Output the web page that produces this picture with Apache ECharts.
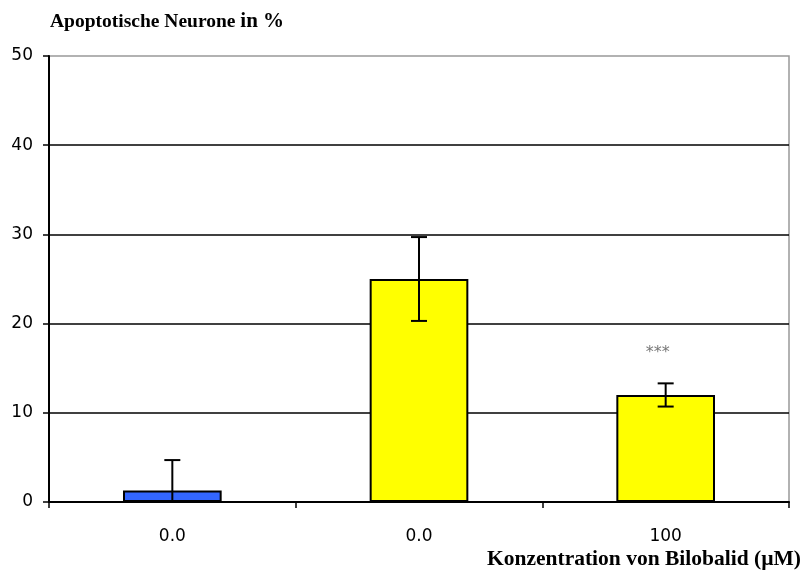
<!DOCTYPE html>
<html>
<head>
<meta charset="utf-8">
<style>
  html, body { margin: 0; padding: 0; background: #fff; }
  #chart { width: 806px; height: 572px; }
</style>
<script src="https://cdn.jsdelivr.net/npm/echarts@6/dist/echarts.min.js"></script>
</head>
<body>
<div id="chart"></div>
<script>
// Bilobalid concentration groups
const categories = ['0.0', '0.0', '100'];
// Mean share of apoptotic neurons (%)
const meanValues = [1.3, 25.0, 12.0];
// Standard deviation of each group
const errorValues = [3.4, 4.7, 1.3];
// Significance marker per group
const significance = ['', '', '***'];
const barColors = ['#3366FF', '#FFFF00', '#FFFF00'];
const yTicks = [0, 10, 20, 30, 40, 50];

const chart = echarts.init(document.getElementById('chart'), null, { renderer: 'canvas' });

const errorData = meanValues.map((v, i) => [i, v - errorValues[i], v + errorValues[i], v]);

chart.setOption({
  animation: false,
  backgroundColor: '#ffffff',
  title: [
    {
      text: '{a|Apoptotische Neurone }{b|in %}',
      left: 50,
      top: 11,
      padding: 0,
      textStyle: {
        rich: {
          a: { fontFamily: 'Liberation Serif', fontWeight: 'bold', fontSize: 19.5, color: '#000' },
          b: { fontFamily: 'Liberation Serif', fontWeight: 'bold', fontSize: 21, color: '#000' }
        }
      }
    },
    {
      text: 'Konzentration von Bilobalid (µM)',
      right: 5,
      top: 548,
      padding: 0,
      textStyle: { fontFamily: 'Liberation Serif', fontWeight: 'bold', fontSize: 21.5, color: '#000' }
    }
  ],
  grid: {
    left: 49, right: 17, top: 56, bottom: 70,
    show: true, borderColor: '#999999', borderWidth: 1.5, backgroundColor: 'transparent'
  },
  xAxis: {
    type: 'category',
    data: categories,
    boundaryGap: true,
    axisLine: { lineStyle: { color: '#000', width: 2 } },
    axisTick: { show: true, alignWithLabel: false, length: 6, lineStyle: { color: '#000', width: 1.5 } },
    axisLabel: { margin: 26, fontFamily: 'DejaVu Sans', fontSize: 17, color: '#000' },
    splitLine: { show: false }
  },
  yAxis: {
    type: 'value',
    min: yTicks[0],
    max: yTicks[yTicks.length - 1],
    interval: 10,
    axisLine: { show: true, lineStyle: { color: '#000', width: 2 } },
    axisTick: { show: true, length: 6, lineStyle: { color: '#000', width: 1.5 } },
    axisLabel: { margin: 16, fontFamily: 'DejaVu Sans', fontSize: 17, color: '#000' },
    splitLine: { show: true, showMinLine: false, showMaxLine: false, lineStyle: { color: '#000', width: 1.5 } }
  },
  series: [
    {
      type: 'bar',
      barWidth: '40%',
      data: meanValues.map((v, i) => ({
        value: v,
        itemStyle: { color: barColors[i], borderColor: '#000', borderWidth: 2 }
      })),
      z: 2
    },
    {
      type: 'custom',
      z: 3,
      data: errorData,
      renderItem: function (params, api) {
        const idx = api.value(0);
        const lo = Math.max(api.value(1), 0);
        const hi = api.value(2);
        const top = api.coord([idx, hi]);
        const bottom = api.coord([idx, lo]);
        const capHalf = 8;
        const style = { stroke: '#000', lineWidth: 2, fill: null };
        const children = [
          { type: 'line', shape: { x1: top[0], y1: top[1], x2: bottom[0], y2: bottom[1] }, style: style },
          { type: 'line', shape: { x1: top[0] - capHalf, y1: top[1], x2: top[0] + capHalf, y2: top[1] }, style: style }
        ];
        if (api.value(1) > 0) {
          children.push({ type: 'line', shape: { x1: bottom[0] - capHalf, y1: bottom[1], x2: bottom[0] + capHalf, y2: bottom[1] }, style: style });
        }
        const mark = significance[idx];
        if (mark) {
          children.push({
            type: 'text',
            style: {
              text: mark, x: top[0] - 8, y: top[1] - 31,
              fill: '#777', font: '16px DejaVu Sans',
              textAlign: 'center', textVerticalAlign: 'middle'
            }
          });
        }
        return { type: 'group', children: children };
      }
    }
  ]
});
</script>
</body>
</html>
